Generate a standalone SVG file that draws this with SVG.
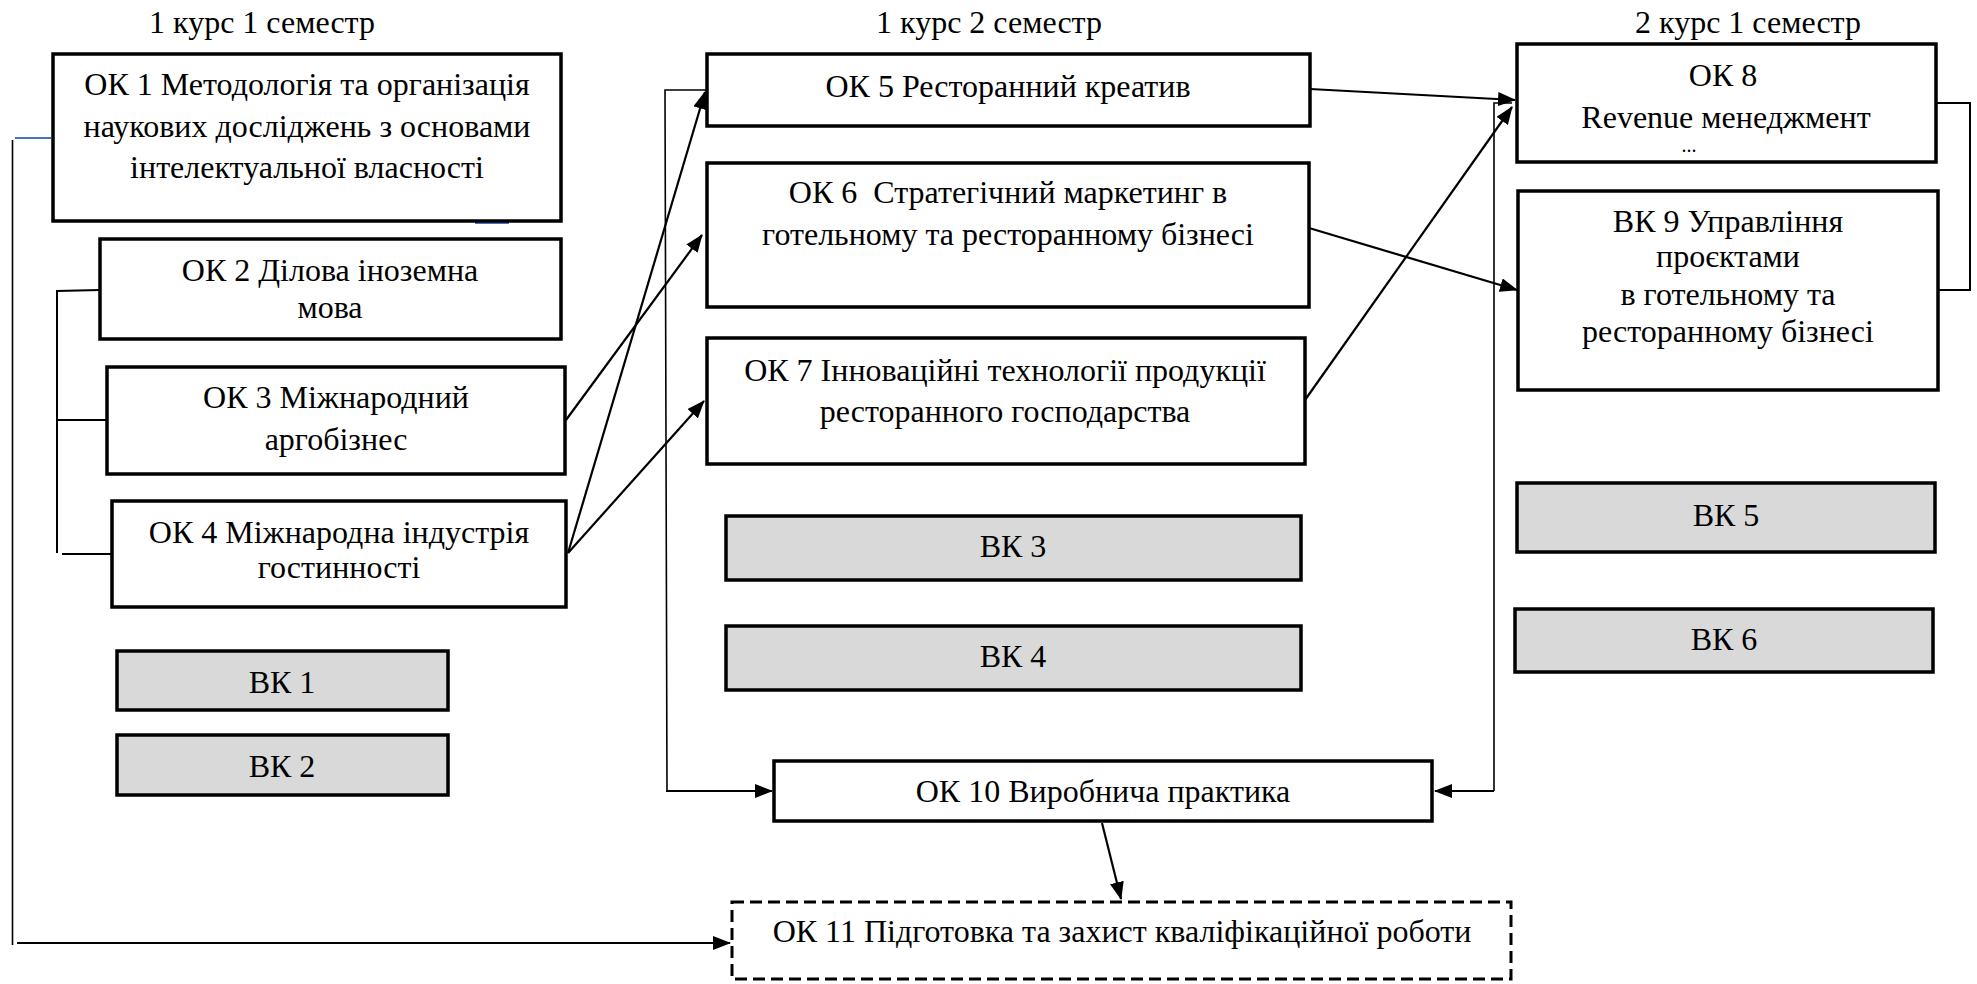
<svg xmlns="http://www.w3.org/2000/svg" width="1977" height="984" viewBox="0 0 1977 984" font-family="'Liberation Serif', 'Times New Roman', serif">
<style>
text{font-family:"Liberation Serif","Times New Roman",serif;font-size:32px;fill:#000;text-anchor:middle}
.box{fill:#fff;stroke:#000;stroke-width:3.5}
.vk{fill:#d9d9d9;stroke:#000;stroke-width:3.5}
.dash{fill:#fff;stroke:#000;stroke-width:3;stroke-dasharray:12 6}
.ln{fill:none;stroke:#000;stroke-width:2}
.thin{fill:none;stroke:#000;stroke-width:1.6}
.arr{fill:none;stroke:#000;stroke-width:2.2;marker-end:url(#ah)}
.blue{fill:none;stroke:#4472c4;stroke-width:2}
</style>
<defs>
<marker id="ah" markerUnits="userSpaceOnUse" markerWidth="18" markerHeight="14" refX="17" refY="7" orient="auto">
<path d="M0,0 L18,7 L0,14 Z" fill="#000"/>
</marker>
</defs>
<rect width="1977" height="984" fill="#fff"/>
<g id="titles" font-family="'Liberation Serif', serif">
<text x="262" y="33">1 курс 1 семестр</text>
<text x="989" y="33">1 курс 2 семестр</text>
<text x="1748" y="33">2 курс 1 семестр</text>
</g>
<g id="connectors">
<path class="blue" d="M15,138 H51"/>
<path class="blue" d="M475,223 H509"/>
<path class="thin" d="M12.5,140 V945"/>
<path class="arr" d="M17,943 H730"/>
<path class="ln" d="M100,290 L57,291 V553"/>
<path class="ln" d="M58,420 H107"/>
<path class="ln" d="M62,554 H111"/>
<path class="arr" d="M568,553 L705,92"/>
<path class="arr" d="M566,420 L702,235"/>
<path class="arr" d="M568,553 L704,401"/>
<path class="arr" d="M1310,89 L1515,100"/>
<path class="arr" d="M1305,400 L1512,107"/>
<path class="arr" d="M1309,228 L1517,290"/>
<path class="thin" d="M707,90 H665 L667,791"/>
<path class="arr" d="M666,791 H772"/>
<path class="thin" d="M1512,103 H1494 V791"/>
<path class="arr" d="M1494,791 H1435"/>
<path class="arr" d="M1102,823 L1121,899"/>
<path class="ln" d="M1937,103 H1970 V290 H1938"/>
</g>
<g id="nodes" font-family="'Liberation Serif', serif" font-size="32" text-anchor="middle">
<g id="ok1"><rect class="box" x="53" y="54" width="508" height="167"/>
<text x="307" y="95">ОК 1 Методологія та організація</text>
<text x="307" y="137">наукових досліджень з основами</text>
<text x="307" y="178">інтелектуальної власності</text></g>
<g id="ok2"><rect class="box" x="100" y="239" width="461" height="100"/>
<text x="330" y="281">ОК 2 Ділова іноземна</text>
<text x="330" y="318">мова</text></g>
<g id="ok3"><rect class="box" x="107" y="367" width="458" height="107"/>
<text x="336" y="408">ОК 3 Міжнародний</text>
<text x="336" y="450">аргобізнес</text></g>
<g id="ok4"><rect class="box" x="112" y="501" width="454" height="106"/>
<text x="339" y="543">ОК 4 Міжнародна індустрія</text>
<text x="339" y="578">гостинності</text></g>
<g id="vk1"><rect class="vk" x="117" y="651" width="331" height="59"/>
<text x="282" y="693">ВК 1</text></g>
<g id="vk2"><rect class="vk" x="117" y="735" width="331" height="60"/>
<text x="282" y="777">ВК 2</text></g>
<g id="ok5"><rect class="box" x="707" y="54" width="603" height="72"/>
<text x="1008" y="97">ОК 5 Ресторанний креатив</text></g>
<g id="ok6"><rect class="box" x="707" y="163" width="602" height="144"/>
<text x="1008" y="203" xml:space="preserve">ОК 6  Стратегічний маркетинг в</text>
<text x="1008" y="245">готельному та ресторанному бізнесі</text></g>
<g id="ok7"><rect class="box" x="707" y="338" width="598" height="126"/>
<text x="1005" y="381">ОК 7 Інноваційні технології продукції</text>
<text x="1005" y="422">ресторанного господарства</text></g>
<g id="vk3"><rect class="vk" x="726" y="516" width="575" height="64"/>
<text x="1013" y="557">ВК 3</text></g>
<g id="vk4"><rect class="vk" x="726" y="626" width="575" height="64"/>
<text x="1013" y="667">ВК 4</text></g>
<g id="ok8"><rect class="box" x="1517" y="44" width="419" height="118"/>
<text x="1723" y="86">ОК 8</text>
<text x="1726" y="128">Revenue менеджмент</text>
<text x="1689" y="152" style="font-size:20px">...</text></g>
<g id="vk9"><rect class="box" x="1518" y="191" width="420" height="199"/>
<text x="1728" y="232">ВК 9 Управління</text>
<text x="1728" y="267">проєктами</text>
<text x="1728" y="305">в готельному та</text>
<text x="1728" y="342">ресторанному бізнесі</text></g>
<g id="vk5"><rect class="vk" x="1517" y="483" width="418" height="69"/>
<text x="1726" y="526">ВК 5</text></g>
<g id="vk6"><rect class="vk" x="1515" y="609" width="418" height="63"/>
<text x="1724" y="650">ВК 6</text></g>
<g id="ok10"><rect class="box" x="774" y="761" width="658" height="60"/>
<text x="1103" y="802">ОК 10 Виробнича практика</text></g>
<g id="ok11"><rect class="dash" x="732" y="902" width="779" height="77"/>
<text x="1122" y="942">ОК 11 Підготовка та захист кваліфікаційної роботи</text></g>
</g>
</svg>
